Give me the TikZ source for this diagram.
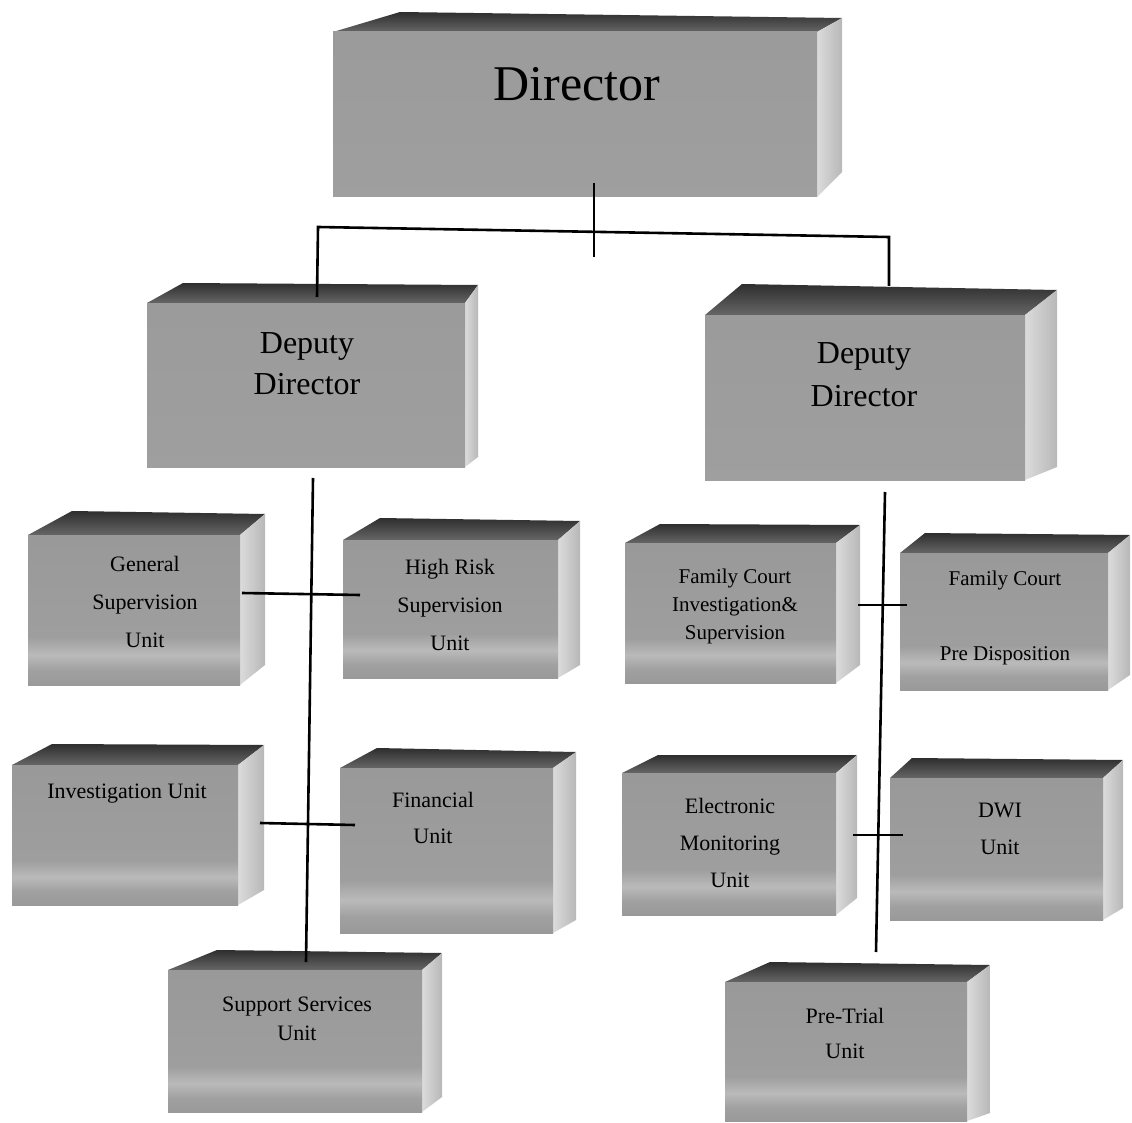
\documentclass[tikz,border=0pt]{standalone}
\usepackage{fontspec}
\setmainfont{Liberation Serif}
\usetikzlibrary{fit}
\pgfdeclareverticalshading{frontband}{100bp}{color(0bp)=(black!40); color(25bp)=(black!40); color(30bp)=(black!37); color(35bp)=(black!27); color(41bp)=(black!38); color(75bp)=(black!40); color(100bp)=(black!40)}
\pgfdeclareverticalshading{frontplain}{100bp}{color(0bp)=(black!37); color(100bp)=(black!40)}
\newcommand\cuboid[7]{%
  \coordinate (#1-nw) at #2; \coordinate (#1-se) at #3;
  \coordinate (#1-bl) at #4; \coordinate (#1-br) at #5;
  \coordinate (#1-ne) at (#1-se |- #1-nw);
  \coordinate (#1-bb) at (#1-br |- 0,#6);
  \shade[topface] (#1-nw) -- (#1-bl) -- (#1-br) -- (#1-ne) -- cycle;
  \shade[sideface] (#1-ne) -- (#1-br) -- (#1-bb) -- (#1-se) -- cycle;
  \node[inner sep=0pt, outer sep=0pt, fit=(#1-nw)(#1-se), shade, shading=#7] (#1) {};
}
\begin{document}
\begin{tikzpicture}[x=1pt,y=-1pt,
  topface/.style={top color=black!82, bottom color=black!60},
  sideface/.style={left color=black!14, right color=black!28},
  conn/.style={draw=black, line width=2.6pt},
  lbl/.style={align=center, text=black, inner sep=0pt}]
\useasboundingbox[fill=white] (0,0) rectangle (1132,1123);

\cuboid{dir}{(333,32)}{(817,197)}{(400,12)}{(842,18)}{172}{frontplain}
\cuboid{dpl}{(147,303)}{(465,467)}{(183,283)}{(478,285)}{457}{frontplain}
\cuboid{dpr}{(705,315)}{(1025,480)}{(742,284)}{(1057,290)}{467}{frontplain}
\cuboid{gen}{(28,535)}{(240,685)}{(72,511)}{(265,514)}{665}{frontband}
\cuboid{hr}{(343,540)}{(558,678)}{(380,518)}{(580,521)}{665}{frontband}
\cuboid{inv}{(12,765)}{(238,905)}{(52,744)}{(264,745)}{890}{frontband}
\cuboid{fin}{(340,768)}{(553,933)}{(377,748)}{(576,752)}{920}{frontband}
\cuboid{fci}{(625,543)}{(836,683)}{(660,524)}{(860,525)}{665}{frontband}
\cuboid{fcp}{(900,553)}{(1108,690)}{(925,533)}{(1130,535)}{675}{frontband}
\cuboid{elm}{(622,773)}{(836,915)}{(658,755)}{(857,755)}{898}{frontband}
\cuboid{dwi}{(890,778)}{(1103,920)}{(912,758)}{(1123,760)}{908}{frontband}
\cuboid{sup}{(168,970)}{(422,1112)}{(217,950)}{(442,953)}{1097}{frontband}
\cuboid{pre}{(725,982)}{(967,1121)}{(770,962)}{(990,965)}{1113}{frontband}

% labels
\node[lbl, font=\fontsize{50}{50}\selectfont] (t-dir) at (577,84) {Director};
\node[lbl, font=\fontsize{32}{41}\selectfont] (t-dpl) at (307,364) {Deputy\\Director};
\node[lbl, font=\fontsize{32}{43}\selectfont] (t-dpr) at (864,375) {Deputy\\Director};
\node[lbl, font=\fontsize{22}{38}\selectfont] (t-gen) at (145,602) {General\\Supervision\\Unit};
\node[lbl, font=\fontsize{22}{38}\selectfont] (t-hr) at (450,605) {High Risk\\Supervision\\Unit};
\node[lbl, font=\fontsize{21}{28}\selectfont] (t-fci) at (735,606) {Family Court\\Investigation\&\\Supervision};
\node[lbl, font=\fontsize{21}{75}\selectfont] (t-fcp) at (1005,618) {Family Court\\Pre Disposition};
\node[lbl, font=\fontsize{22}{22}\selectfont] (t-inv) at (127,794) {Investigation Unit};
\node[lbl, font=\fontsize{22}{36}\selectfont] (t-fin) at (433,818) {Financial\\Unit};
\node[lbl, font=\fontsize{22}{37}\selectfont] (t-elm) at (730,843) {Electronic\\Monitoring\\Unit};
\node[lbl, font=\fontsize{22}{37}\selectfont] (t-dwi) at (1000,829) {DWI\\Unit};
\node[lbl, font=\fontsize{22}{29}\selectfont] (t-sup) at (297,1019) {Support Services\\Unit};
\node[lbl, font=\fontsize{22}{35}\selectfont] (t-pre) at (845,1033) {Pre-Trial\\Unit};

% connector coordinates
\coordinate (dirstem) at (594,183);
\coordinate (stubend) at (594,257);
\coordinate (hl) at (318,227);
\coordinate (hr-j) at (889,237);
\coordinate (dpl-in) at (317,297);
\coordinate (dpr-in) at (889,286);
\coordinate (ls-top) at (313,478);
\coordinate (ls-bot) at (306,962);
\coordinate (rs-top) at (885,492);
\coordinate (rs-bot) at (876,952);
\coordinate (gen-in) at (242,593);
\coordinate (hr-in) at (360,595);
\coordinate (inv-in) at (260,823);
\coordinate (fin-in) at (355,825);
\coordinate (fci-in) at (858,605);
\coordinate (fcp-in) at (907,605);
\coordinate (elm-in) at (853,835);
\coordinate (dwi-in) at (903,835);

\draw[conn] (dirstem) -- (stubend);
\draw[conn] (dpl-in) -- (hl) -- (hr-j) -- (dpr-in);
\draw[conn] (ls-top) -- (ls-bot);
\draw[conn] (rs-top) -- (rs-bot);
\draw[conn] (gen-in) -- (hr-in);
\draw[conn] (inv-in) -- (fin-in);
\draw[conn] (fci-in) -- (fcp-in);
\draw[conn] (elm-in) -- (dwi-in);
\end{tikzpicture}
\end{document}
